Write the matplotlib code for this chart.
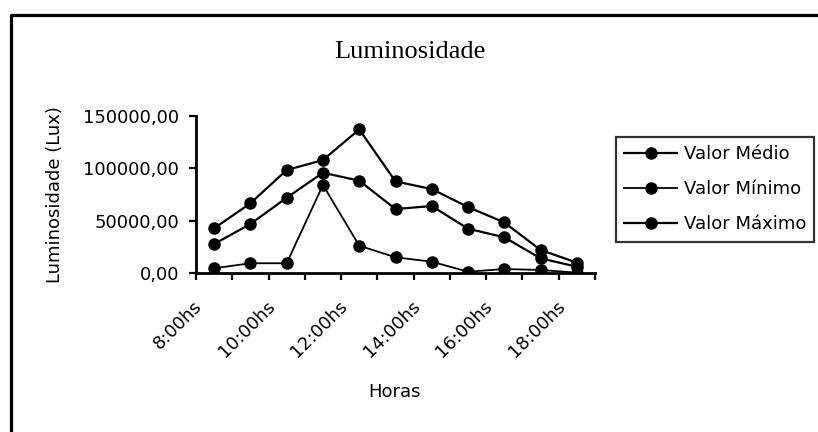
import numpy as np
import matplotlib
matplotlib.use("Agg")
import matplotlib.pyplot as plt
from matplotlib.lines import Line2D
from matplotlib.ticker import FuncFormatter, FixedLocator, NullFormatter
from matplotlib.transforms import ScaledTranslation

hours = ['8:00hs', '9:00hs', '10:00hs', '11:00hs', '12:00hs', '13:00hs',
         '14:00hs', '15:00hs', '16:00hs', '17:00hs', '18:00hs']
valor_medio = [27700, 46800, 71900, 95800, 88200, 61100, 64000, 42300, 34100, 14000, 6000]
valor_minimo = [4500, 9300, 9300, 84100, 26100, 15000, 10800, 1200, 3800, 2900, 300]
valor_maximo = [42700, 66600, 98400, 107900, 137200, 87500, 80200, 63000, 48300, 22000, 9900]
yticks = [0, 50000, 100000, 150000]

W, H = 818, 432
FS = 13
fig = plt.figure(figsize=(W / 100, H / 100), dpi=100)
fig.patch.set_facecolor('white')

def px(x, y):
    return (x / W, 1 - y / H)

# outer chart-area border (only top and left visible)
fig.add_artist(Line2D([10.5 / W, 10.5 / W, 1.01], [-0.01, 1 - 14.5 / H, 1 - 14.5 / H],
                      transform=fig.transFigure, color='black', lw=2.3))

left, right = 196, 595
top, bottom = 116, 273
ax = fig.add_axes([left / W, 1 - bottom / H, (right - left) / W, (bottom - top) / H])

x = np.arange(len(hours))
kw = dict(marker='o', markersize=8, color='black', markerfacecolor='black')
ax.plot(x, valor_medio, lw=1.6, label='Valor Médio', **kw)
ax.plot(x, valor_minimo, lw=1.3, label='Valor Mínimo', **kw)
ax.plot(x, valor_maximo, lw=1.6, label='Valor Máximo', **kw)

ax.set_xlim(-0.5, len(hours) - 0.5)
ax.set_ylim(0, 150000)
for s in ['top', 'right']:
    ax.spines[s].set_visible(False)
for s in ['left', 'bottom']:
    ax.spines[s].set_linewidth(2.0)
    ax.spines[s].set_color('black')

ax.set_yticks(yticks)
ax.yaxis.set_major_formatter(FuncFormatter(lambda v, p: f"{v:.2f}".replace('.', ',')))
ax.tick_params(axis='y', direction='out', length=5, width=1.6, pad=7, labelsize=FS)

ax.xaxis.set_major_locator(FixedLocator(np.arange(-0.5, len(hours), 1.0)))
ax.xaxis.set_major_formatter(NullFormatter())
ax.xaxis.set_minor_locator(FixedLocator(x[::2]))
ax.set_xticklabels(hours[::2], minor=True)
ax.tick_params(axis='x', which='major', direction='out', length=5, width=1.6)
ax.tick_params(axis='x', which='minor', length=0, pad=6, labelsize=FS)
offset = ScaledTranslation(-0.21, -0.16, fig.dpi_scale_trans)
for lab in ax.get_xticklabels(minor=True):
    lab.set_rotation(45)
    lab.set_ha('right')
    lab.set_va('top')
    lab.set_rotation_mode('anchor')
    lab.set_transform(lab.get_transform() + offset)

ax.set_ylabel('Luminosidade (Lux)', fontsize=FS, va='center')
ax.yaxis.set_label_coords((55 - left) / (right - left), 0.5)
ax.set_xlabel('Horas', fontsize=FS)
ax.xaxis.set_label_coords((395 - left) / (right - left), (bottom - 383) / (bottom - top))

fig.text(*px(410, 52), 'Luminosidade', family='Liberation Serif', fontsize=19,
         ha='center', va='center')

leg = fig.legend(loc='upper left', bbox_to_anchor=px(616, 137), fontsize=FS,
                 frameon=True, fancybox=False, edgecolor='black', borderpad=0.45,
                 handlelength=2.95, handletextpad=0.35, labelspacing=0.95,
                 borderaxespad=0)
leg.get_frame().set_linewidth(1.6)

fig.savefig('out.png', dpi=100, facecolor='white')
